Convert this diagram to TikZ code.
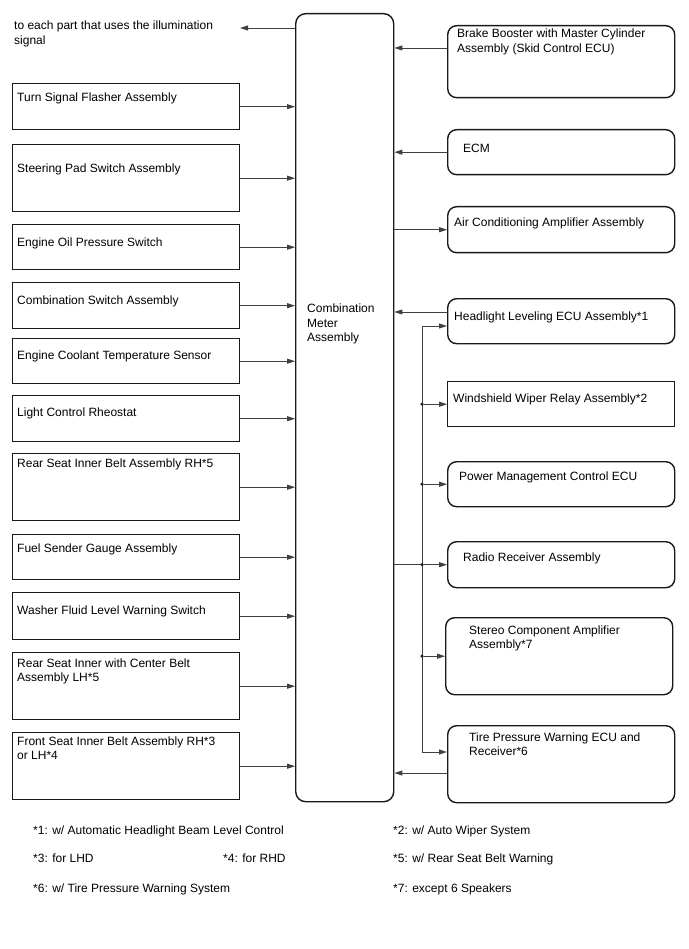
\documentclass[tikz,border=0pt]{standalone}
\usepackage{fontspec}
\setmainfont{Liberation Sans}
\usetikzlibrary{arrows.meta}

\begin{document}
\begin{tikzpicture}[x=1pt,y=-1pt,font=\fontsize{12}{14.5}\selectfont,
  part/.style={draw=black!90,line width=1.4pt,anchor=north west,inner sep=0pt,minimum width=227pt},
  rpart/.style={part,rounded corners=9pt},
  txt/.style={anchor=base west,inner sep=0pt,align=left},
  conn/.style={draw=black!75,line width=0.9pt},
  tip/.style={-{Triangle[length=8pt,width=5pt]}},
  jdot/.style={circle,fill=black!85,inner sep=0pt,minimum size=3.6pt}]
\useasboundingbox (0,0) rectangle (688,949);
\node[part,rounded corners=10pt,minimum width=98pt,minimum height=788pt] (cma) at (295,13) {};
\node[txt] (cma-t) at (307,341.5) {Combination\\Meter\\Assembly};
\node[txt] (ill-t) at (14,44.5) {to each part that uses the illumination\\signal};
\coordinate (ill) at (240,28);
\draw[conn,tip] (ill -| cma.west) -- (ill);
\foreach \nm/\ya/\hh/\tb/\tx in {
  tsf/83/46/102/{Turn Signal Flasher Assembly},
  spd/144/67/172.5/{Steering Pad Switch Assembly},
  eop/224/45/246.5/{Engine Oil Pressure Switch},
  csw/282/46/304.5/{Combination Switch Assembly},
  ect/338/45/359.5/{Engine Coolant Temperature Sensor},
  lcr/395/46/416.5/{Light Control Rheostat},
  rsr/453/67/467.5/{Rear Seat Inner Belt Assembly RH*5},
  fsg/534/45/552.5/{Fuel Sender Gauge Assembly},
  wfl/592/47/614.5/{Washer Fluid Level Warning Switch},
  rsc/652/67/681.5/{Rear Seat Inner with Center Belt\\Assembly LH*5},
  fsb/732/67/759.5/{Front Seat Inner Belt Assembly RH*3\\or LH*4}}{
  \node[part,minimum height=\hh] (\nm) at (12,\ya) {};
  \node[txt] (\nm-t) at (17,\tb) {\tx};
  \draw[conn,tip] (\nm.east) -- (\nm.east -| cma.west);
}
\foreach \nm/\xa/\ya/\hh/\xt/\tb/\tx in {
  brk/447/25/72/457/52.5/{Brake Booster with Master Cylinder\\Assembly (Skid Control ECU)},
  ecm/447/129/45/463/152.5/{ECM},
  acl/447/206/46/454/226.5/{Air Conditioning Amplifier Assembly},
  hlv/447/298/45/454/320.5/{Headlight Leveling ECU Assembly*1},
  pmc/447/461/45/459/480.5/{Power Management Control ECU},
  rra/447/541/46/463/561.5/{Radio Receiver Assembly},
  sca/445/617/77/469/648.5/{Stereo Component Amplifier\\Assembly*7},
  tpw/447/725/77/469/755.5/{Tire Pressure Warning ECU and\\Receiver*6}}{
  \node[rpart,minimum height=\hh] (\nm) at (\xa,\ya) {};
  \node[txt] (\nm-t) at (\xt,\tb) {\tx};
}
\node[part,minimum height=45] (wwr) at (447,381) {};
\node[txt] (wwr-t) at (453,402.5) {Windshield Wiper Relay Assembly*2};
\coordinate (brk-o) at ([yshift=-23pt]brk.north west);
\coordinate (hlv-o) at ([yshift=-14pt]hlv.north west);
\coordinate (hlv-i) at ([yshift=-28pt]hlv.north west);
\coordinate (tpw-i) at ([yshift=-27pt]tpw.north west);
\coordinate (tpw-o) at ([yshift=-48pt]tpw.north west);
\coordinate (bus) at (422,0);
\draw[conn,tip] (brk-o) -- (brk-o -| cma.east);
\draw[conn,tip] (ecm.west) -- (ecm.west -| cma.east);
\draw[conn,tip] (acl.west -| cma.east) -- (acl.west);
\draw[conn,tip] (hlv-o) -- (hlv-o -| cma.east);
\draw[conn,tip] (tpw-o) -- (tpw-o -| cma.east);
\draw[conn,tip] (bus |- rra.west) -- (bus |- hlv-i) -- (hlv-i);
\draw[conn,tip] (bus |- rra.west) -- (bus |- tpw-i) -- (tpw-i);
\draw[conn] (cma.east |- rra.west) -- (bus |- rra.west);
\foreach \nm in {wwr,pmc,rra,sca}{
  \node[jdot] (j-\nm) at (bus |- \nm.west) {};
  \draw[conn,tip] (j-\nm) -- (\nm.west);
}
\node[txt] (n1) at (33,834.5) {*1: w/ Automatic Headlight Beam Level Control};
\node[txt] (n2) at (393,834.5) {*2: w/ Auto Wiper System};
\node[txt] (n3) at (33,862.5) {*3: for LHD};
\node[txt] (n4) at (223,862.5) {*4: for RHD};
\node[txt] (n5) at (393,862.5) {*5: w/ Rear Seat Belt Warning};
\node[txt] (n6) at (33,892.5) {*6: w/ Tire Pressure Warning System};
\node[txt] (n7) at (393,892.5) {*7: except 6 Speakers};
\end{tikzpicture}
\end{document}
